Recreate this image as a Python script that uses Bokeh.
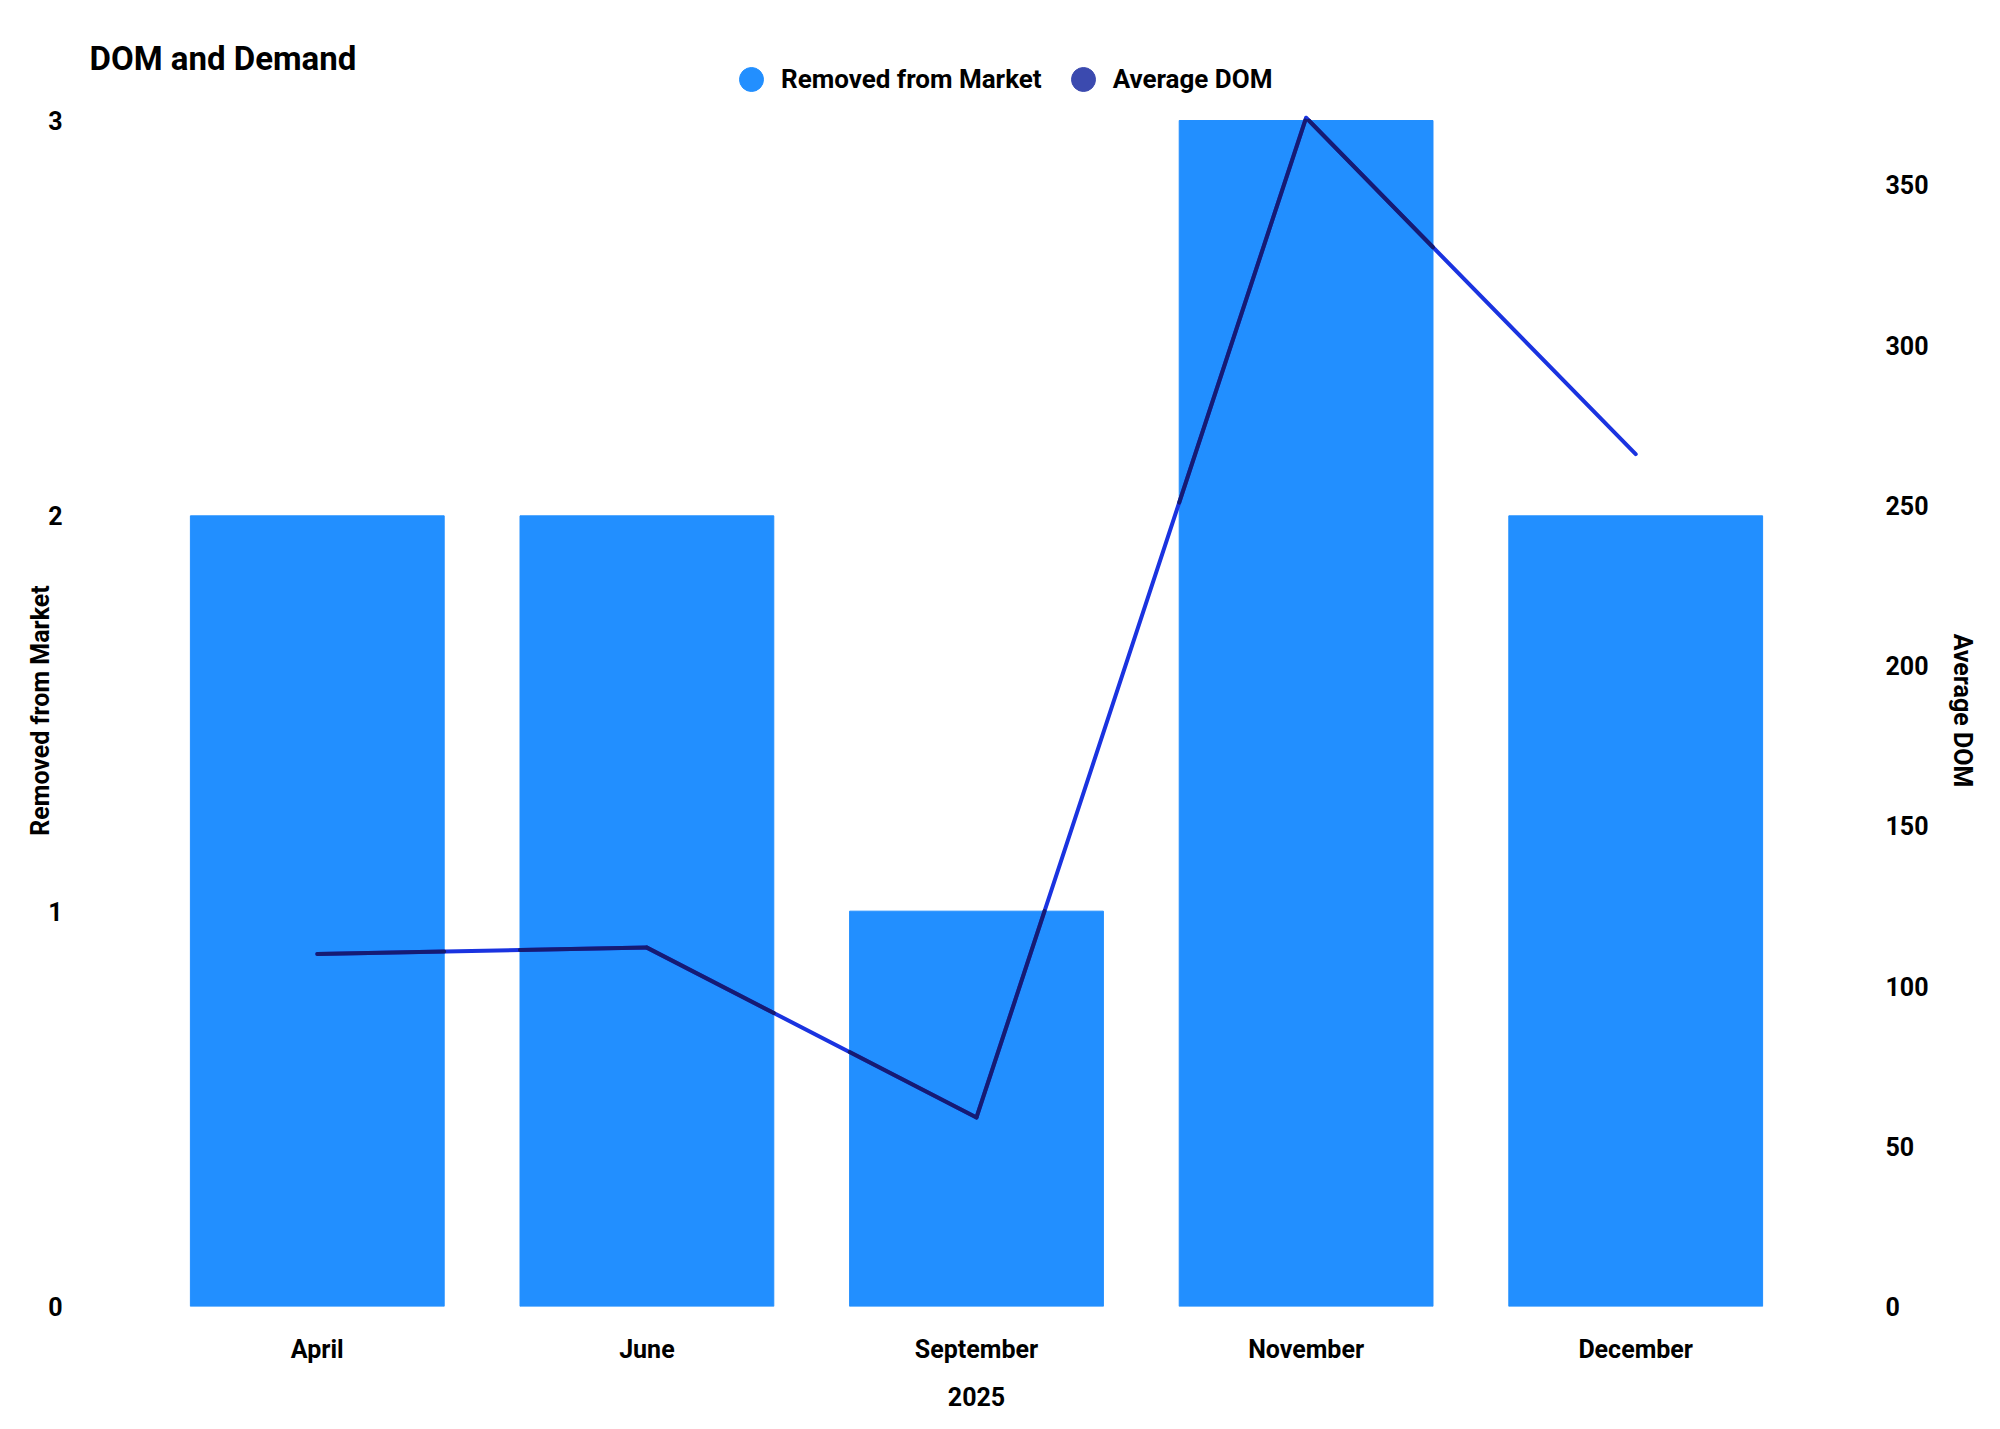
from bokeh.plotting import figure
from bokeh.models import (Range1d, LinearAxis, FixedTicker, Legend, LegendItem,
                          ColumnDataSource)
from bokeh.layouts import column
from bokeh.embed import file_html
from bokeh.resources import INLINE

# ---- data ----
months = ["April", "June", "September", "November", "December"]
removed = [2, 2, 1, 3, 2]
avg_dom = [110, 112, 59, 371, 266]
left_ticks = [0, 1, 2, 3]
right_ticks = [0, 50, 100, 150, 200, 250, 300, 350]
x_title = "2025"
chart_title = "DOM and Demand"
series_names = ["Removed from Market", "Average DOM"]

FONT = "Roboto"
BAR = "#228fff"
LINE_LIGHT = "#1a33e0"
LINE_DARK = "#161b72"
LEG_DOM = "#3b4aaf"
L_END = 3.0152
R_END = 372
BAR_W = 0.77
W = 1984
TOP_H = 104
BL, BR = 152, 184

xs = list(range(len(months)))

# ---------- header figure: title + legend ----------
top = figure(width=W, height=TOP_H, output_backend="svg", toolbar_location=None,
             x_range=Range1d(0, 1), y_range=Range1d(0, 1),
             x_axis_type=None, y_axis_type=None,
             min_border_left=BL, min_border_right=BR, min_border_top=60,
             min_border_bottom=0)
top.xgrid.visible = False
top.ygrid.visible = False
top.outline_line_color = None
top.title.text = chart_title
top.title.text_font = FONT
top.title.text_font_size = "33px"
top.title.text_font_style = "bold"
top.title.text_color = "black"
top.title.align = "left"
top.title.offset = -63
top.title.standoff = -35
nan = float("nan")
d1 = top.scatter(x=[nan], y=[nan], marker="circle", color=BAR)
d2 = top.scatter(x=[nan], y=[nan], marker="circle", color=LEG_DOM)
leg = Legend(items=[LegendItem(label=series_names[0], renderers=[d1]),
                    LegendItem(label=series_names[1], renderers=[d2])],
             orientation="horizontal", location=(721 - BL, -5),
             glyph_width=60, glyph_height=60, label_standoff=0, spacing=11,
             padding=0, margin=0, border_line_color=None, background_fill_alpha=0,
             label_text_font=FONT, label_text_font_size="26px",
             label_text_font_style="bold", label_text_color="black")
top.add_layout(leg)

# ---------- main chart ----------
p = figure(width=W, height=1413 - TOP_H, output_backend="svg", toolbar_location=None,
           x_range=Range1d(-0.5, len(months) - 0.5), y_range=Range1d(0, L_END),
           min_border_left=BL, min_border_right=BR,
           min_border_top=114 - TOP_H, min_border_bottom=107)
p.extra_y_ranges = {"dom": Range1d(0, R_END)}
p.xgrid.visible = False
p.ygrid.visible = False
p.outline_line_color = None

src = ColumnDataSource(dict(x=xs, top=removed, dom=avg_dom))
p.vbar(x="x", top="top", bottom=0, width=BAR_W, source=src, color=BAR)
p.line(x="x", y="dom", source=src, y_range_name="dom", line_color=LINE_LIGHT,
       line_width=4, line_join="round", line_cap="round")

# darker parts of the line where it passes over bars
def clip(x0, y0, x1, y1, xmin, xmax, ymin, ymax):
    dx, dy = x1 - x0, y1 - y0
    t0, t1 = 0.0, 1.0
    for pp, q in ((-dx, x0 - xmin), (dx, xmax - x0), (-dy, y0 - ymin), (dy, ymax - y0)):
        if pp == 0:
            if q < 0:
                return None
        else:
            t = q / pp
            if pp < 0:
                t0 = max(t0, t)
            else:
                t1 = min(t1, t)
    if t0 >= t1:
        return None
    return [x0 + t0 * dx, x0 + t1 * dx], [y0 + t0 * dy, y0 + t1 * dy]

seg_x, seg_y = [], []
for i in range(len(xs) - 1):
    for j in range(len(xs)):
        r = clip(xs[i], avg_dom[i], xs[i + 1], avg_dom[i + 1],
                 xs[j] - BAR_W / 2, xs[j] + BAR_W / 2, 0, removed[j] * R_END / L_END)
        if r:
            seg_x.append(r[0])
            seg_y.append(r[1])
p.multi_line(xs=seg_x, ys=seg_y, y_range_name="dom", line_color=LINE_DARK,
             line_width=4, line_join="round", line_cap="round")

def style(ax):
    ax.axis_line_color = None
    ax.major_tick_line_color = None
    ax.minor_tick_line_color = None
    ax.major_label_text_font = FONT
    ax.major_label_text_font_size = "25px"
    ax.major_label_text_font_style = "bold"
    ax.major_label_text_color = "black"
    ax.axis_label_text_font = FONT
    ax.axis_label_text_font_size = "25px"
    ax.axis_label_text_font_style = "bold"
    ax.axis_label_text_color = "black"

xa = p.xaxis[0]
xa.ticker = FixedTicker(ticks=xs)
xa.major_label_overrides = {i: m for i, m in zip(xs, months)}
xa.axis_label = x_title
style(xa)
xa.major_label_standoff = 22
xa.axis_label_standoff = 20

ya = p.yaxis[0]
ya.ticker = FixedTicker(ticks=left_ticks)
ya.axis_label = series_names[0]
style(ya)
ya.major_label_standoff = 84
ya.axis_label_standoff = -10

ra = LinearAxis(y_range_name="dom", ticker=FixedTicker(ticks=right_ticks),
                axis_label=series_names[1])
style(ra)
ra.major_label_standoff = 79
ra.axis_label_standoff = 16
p.add_layout(ra, "right")

open("out.html", "w").write(file_html(column(top, p, spacing=0), INLINE))
